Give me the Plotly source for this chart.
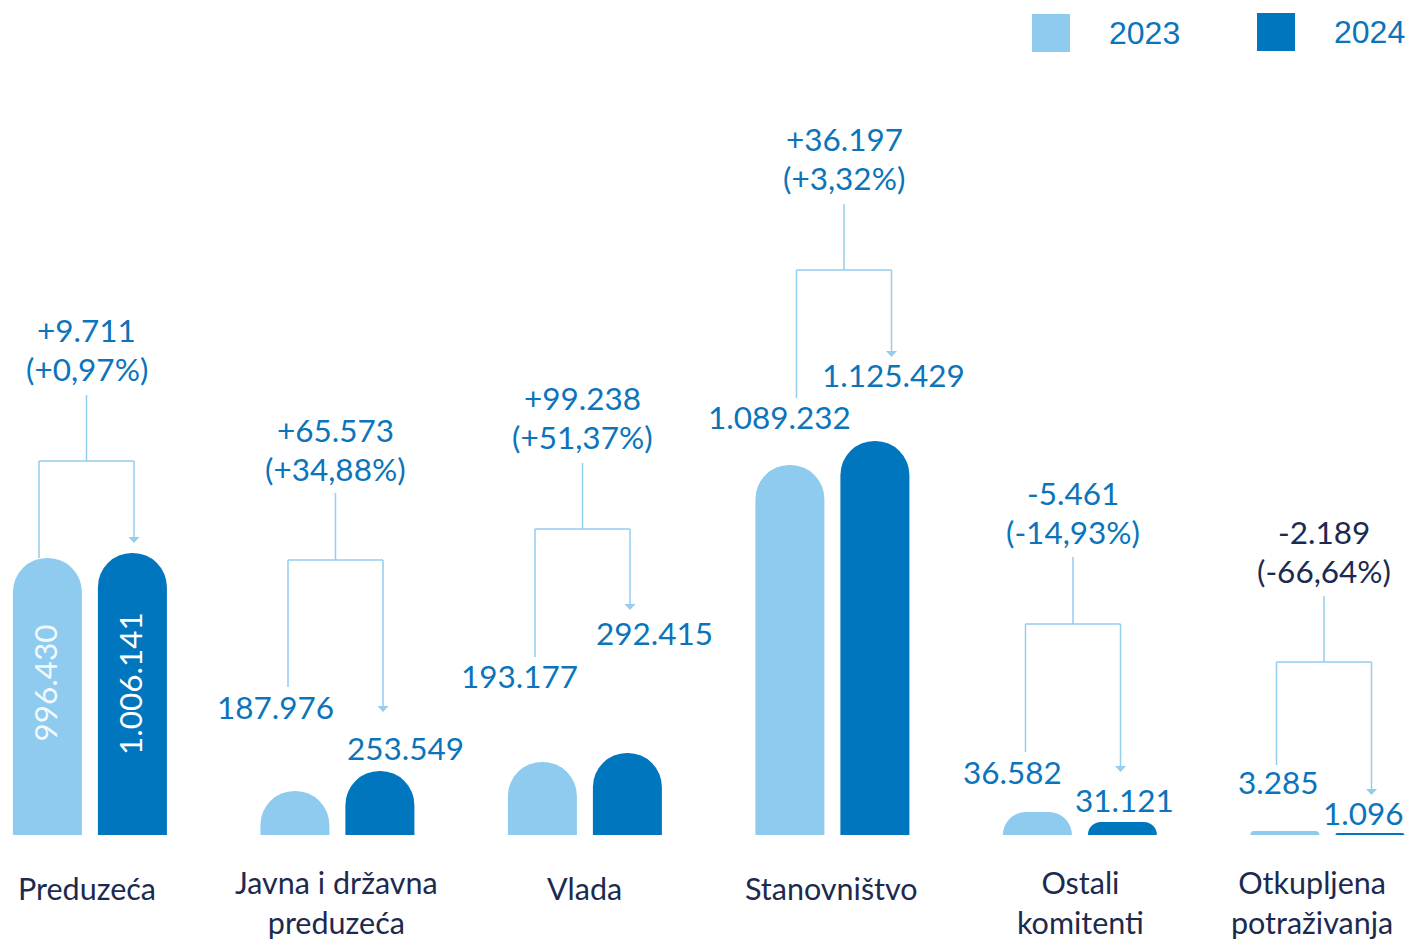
import plotly.graph_objects as go

# ---------------- data ----------------
categories = ["Preduzeća", "Javna i državna<br>preduzeća", "Vlada", "Stanovništvo",
              "Ostali<br>komitenti", "Otkupljena<br>potraživanja"]
series_names = ["2023", "2024"]
values_2023 = [996430, 187976, 193177, 1089232, 36582, 3285]
values_2024 = [1006141, 253549, 292415, 1125429, 31121, 1096]
# bar heights as drawn in the original infographic (its scale is not proportional to the values)
height_2023 = [277, 44, 73, 370, 23, 4]
height_2024 = [282, 64, 82, 394, 13, 2]

# ---------------- style ----------------
LIGHT = "#8ecbee"
DARK = "#0076bf"
TXT = "#0b74bb"
NAVY = "#1c2a4f"
LINE = "#94cdee"
FONT = "Lato"
FS = 31.5
LH = 39  # line spacing of two-line change labels

W, H = 1410, 944
BASE = 835            # pixel row of the baseline
GX0, GW = 89.9, 247.5 # pixel x of first group centre, group spacing


def XP(px):
    """pixel column -> x data coordinate"""
    return (px - GX0) / GW


def Y(py):
    return BASE - py


def fmt(v):
    return f"{abs(v):,}".replace(",", ".")


def change_lines(a, b):
    d = b - a
    pct = d / a * 100
    sign = "+" if d >= 0 else "-"
    p = f"{abs(pct):.2f}".replace(".", ",")
    return [f"{sign}{fmt(d)}", f"({sign}{p}%)"]


n = len(categories)
idx = list(range(n))

fig = go.Figure()
fig.add_trace(go.Bar(x=idx, y=height_2023, name=series_names[0],
                     marker=dict(color=LIGHT, cornerradius="50%", line=dict(width=0)),
                     hoverinfo="skip"))
fig.add_trace(go.Bar(x=idx, y=height_2024, name=series_names[1],
                     marker=dict(color=DARK, cornerradius="50%", line=dict(width=0)),
                     hoverinfo="skip"))

# ---------------- layout positions (pixels) ----------------
conn_cx = [86.5, 335.5, 582.5, 844, 1073, 1324]
conn_top = [395, 493, 463, 204, 557, 596]
conn_mid = [461, 560, 529, 270, 624, 662]
conn_left_end = [558, 687, 657, 398, 752, 765]
conn_arrow = [543, 712, 610, 357, 772, 795]
change_y = [330, 430, 398, 139, 493, 532]
change_color = [TXT, TXT, TXT, TXT, TXT, NAVY]
lbl23 = [None, (275, 707), (519, 676), (779, 417), (1012, 772), (1278, 782)]
lbl24 = [None, (405, 748), (654, 633), (893, 375), (1124, 800), (1363, 813)]
cat_x = [86.5, 336.5, 584, 831, 1080, 1312]
HALF = 47.5

shapes = []
annotations = []
for i in idx:
    cx = conn_cx[i]
    lx, rx = cx - HALF, cx + HALF
    ln = dict(color=LINE, width=1.5)
    shapes.append(dict(type="line", xref="x", yref="y", x0=XP(cx), x1=XP(cx),
                       y0=Y(conn_top[i]), y1=Y(conn_mid[i]), line=ln))
    shapes.append(dict(type="line", xref="x", yref="y", x0=XP(lx), x1=XP(rx),
                       y0=Y(conn_mid[i]), y1=Y(conn_mid[i]), line=ln))
    shapes.append(dict(type="line", xref="x", yref="y", x0=XP(lx), x1=XP(lx),
                       y0=Y(conn_mid[i]), y1=Y(conn_left_end[i]), line=ln))
    shapes.append(dict(type="line", xref="x", yref="y", x0=XP(rx), x1=XP(rx),
                       y0=Y(conn_mid[i]), y1=Y(conn_arrow[i] - 4), line=ln))
    tip = conn_arrow[i]
    path = (f"M {XP(rx - 5.5)},{Y(tip - 6)} L {XP(rx + 5.5)},{Y(tip - 6)} "
            f"L {XP(rx)},{Y(tip)} Z")
    shapes.append(dict(type="path", xref="x", yref="y", path=path,
                       fillcolor=LINE, line=dict(width=0)))

    for k, line_txt in enumerate(change_lines(values_2023[i], values_2024[i])):
        annotations.append(dict(x=XP(cx), y=Y(change_y[i] + k * LH), xref="x", yref="y",
                                text=line_txt, showarrow=False,
                                xanchor="center", yanchor="middle",
                                font=dict(family=FONT, size=FS, color=change_color[i])))
    if lbl23[i] is not None:
        for pos, val in ((lbl23[i], values_2023[i]), (lbl24[i], values_2024[i])):
            px, py = pos
            annotations.append(dict(x=XP(px), y=Y(py), xref="x", yref="y",
                                    text=fmt(val), showarrow=False,
                                    xanchor="center", yanchor="middle",
                                    font=dict(family=FONT, size=FS, color=TXT)))

# labels written vertically inside the first pair of bars
annotations.append(dict(x=XP(44.5), y=Y(683), xref="x", yref="y", text=fmt(values_2023[0]),
                        textangle=-90, showarrow=False, xanchor="center", yanchor="middle",
                        font=dict(family=FONT, size=FS, color="#f2f9fe")))
annotations.append(dict(x=XP(130), y=Y(684), xref="x", yref="y", text=fmt(values_2024[0]),
                        textangle=-90, showarrow=False, xanchor="center", yanchor="middle",
                        font=dict(family=FONT, size=FS, color="#ffffff")))

# category labels (one annotation per category, two-line ones wrapped with <br>)
for i, c in enumerate(categories):
    two = "<br>" in c
    annotations.append(dict(x=XP(cat_x[i]), y=Y(902 if two else 888), xref="x", yref="y",
                            text=c, showarrow=False,
                            xanchor="center", yanchor="middle",
                            font=dict(family=FONT, size=30.5, color=NAVY)))

# legend
leg_sq = [(1032, 14), (1257, 13)]
leg_txt = [(1144, 33), (1369.5, 32)]
for k, (name, col) in enumerate(zip(series_names, [LIGHT, DARK])):
    sx, sy = leg_sq[k]
    shapes.append(dict(type="rect", xref="x", yref="y", x0=XP(sx), x1=XP(sx + 38),
                       y0=Y(sy), y1=Y(sy + 38), fillcolor=col, line=dict(width=0)))
    tx, ty = leg_txt[k]
    annotations.append(dict(x=XP(tx), y=Y(ty), xref="x", yref="y", text=name,
                            showarrow=False, xanchor="center", yanchor="middle",
                            font=dict(family="Liberation Sans", size=32, color=TXT)))

fig.update_layout(
    width=W, height=H,
    margin=dict(l=0, r=0, t=0, b=0),
    paper_bgcolor="white", plot_bgcolor="white",
    barmode="group", bargap=1 - 170 / GW, bargroupgap=1 - 69 / 85,
    showlegend=False,
    xaxis=dict(range=[XP(0), XP(W)], visible=False, fixedrange=True),
    yaxis=dict(range=[BASE - H, BASE], visible=False, fixedrange=True),
    shapes=shapes, annotations=annotations,
    font=dict(family=FONT),
)

fig.write_html(
    "out.html",
    config={"displayModeBar": False},
    post_script="document.documentElement.style.margin='0';document.body.style.margin='0';"
                "document.body.style.overflow='hidden';",
)
